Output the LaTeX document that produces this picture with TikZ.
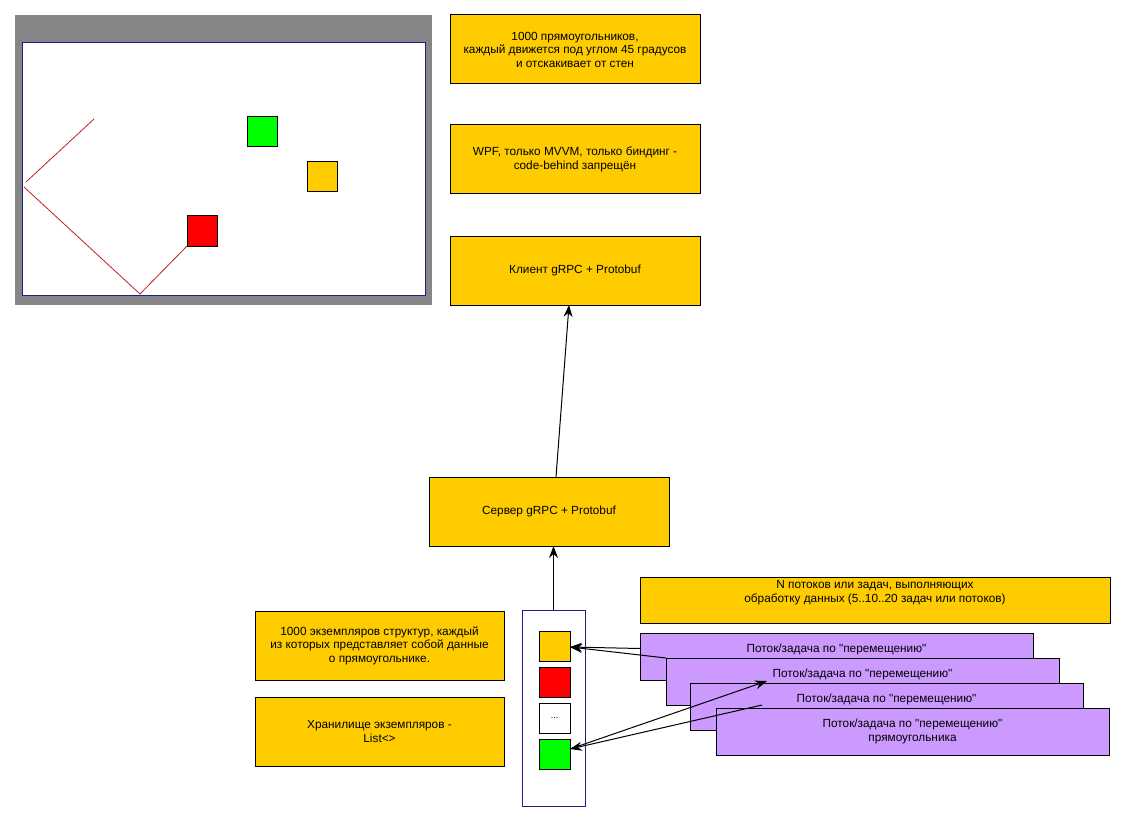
\documentclass[tikz,border=0pt]{standalone}
\usepackage{fontspec}
\setmainfont{Liberation Sans}[Ligatures=TeXOff]
\usetikzlibrary{arrows.meta,calc}

\definecolor{boxyellow}{HTML}{FFCC00}
\definecolor{boxpurple}{HTML}{CC99FF}
\definecolor{framegray}{HTML}{858585}
\definecolor{navy}{RGB}{30,30,140}
\definecolor{sqgreen}{HTML}{00FF00}
\definecolor{sqred}{HTML}{FF0000}
\definecolor{tracered}{HTML}{C02020}

\tikzset{
  note/.style={draw=black, line width=1pt, fill=boxyellow, anchor=north west,
    inner sep=0pt, outer sep=0pt, align=center,
    font=\fontsize{11.8}{13.5}\selectfont},
  thread/.style={note, fill=boxpurple, minimum width=393pt, minimum height=47pt},
  cell/.style={draw=black, line width=1pt, anchor=north west, inner sep=0pt,
    outer sep=0pt, minimum width=31pt, minimum height=30pt,
    font=\fontsize{9}{10}\selectfont},
  link/.style={line width=1pt, -{Stealth[length=12pt,width=9pt,inset=4pt]}},
}

\begin{document}
\begin{tikzpicture}[x=1pt,y=-1pt]
\useasboundingbox (0,0) rectangle (1124,821);

% application window with the moving rectangles
\fill[framegray] (15,15) rectangle (432,305);
\draw[navy, line width=1pt, fill=white] (22,43) rectangle (425,295);
\draw[tracered, line width=0.8pt] (94,119) -- (26,182);
\draw[tracered, line width=0.8pt] (24,187) -- (140,294) -- (187,246);
\draw[line width=1pt, fill=sqgreen] (247,117) rectangle (277,147);
\draw[line width=1pt, fill=boxyellow] (307,162) rectangle (337,192);
\draw[line width=1pt, fill=sqred] (187,216) rectangle (217,246);

% requirement notes
\node[note, minimum width=250pt, minimum height=69pt] (req) at (450,15)
  {1000 прямоугольников,\\каждый движется под углом 45 градусов\\и отскакивает от стен};
\node[note, minimum width=250pt, minimum height=69pt] (wpf) at (450,125)
  {WPF, только MVVM, только биндинг -\\code-behind запрещён};
\node[note, minimum width=250pt, minimum height=69pt] (client) at (450,236)
  {Клиент gRPC + Protobuf};
\node[note, minimum width=240pt, minimum height=69pt] (server) at (429,477)
  {Сервер gRPC + Protobuf};

\node[note, minimum width=249pt, minimum height=69pt] (structs) at (255,611)
  {1000 экземпляров структур, каждый\\из которых представляет собой данные\\о прямоугольнике.};
\node[note, minimum width=249pt, minimum height=69pt] (storage) at (255,697)
  {Хранилище экземпляров -\\List<>};

\node[note, minimum width=470pt, minimum height=46pt] (nthreads) at (640,577)
  {N потоков или задач, выполняющих\\обработку данных (5..10..20 задач или потоков)\\\strut};

% list of instances
\node[draw=navy, line width=1pt, fill=white, anchor=north west, inner sep=0pt,
  outer sep=0pt, minimum width=63pt, minimum height=196pt] (list) at (522,610) {};
\node[cell, fill=boxyellow] (c1) at (539,631) {};
\node[cell, fill=sqred] (c2) at (539,667) {};
\node[cell, fill=white] (c3) at (539,703) {...};
\node[cell, fill=sqgreen] (c4) at (539,739) {};

% worker threads
\node[thread] (p1) at (640,633) {Поток/задача по "перемещению"\\\strut};
\node[thread] (p2) at (666,658) {Поток/задача по "перемещению"\\\strut};
\node[thread] (p3) at (690,683) {Поток/задача по "перемещению"\\\strut};
\node[thread] (p4) at (716,708) {Поток/задача по "перемещению"\\прямоугольника};

\coordinate (p2tip) at ($(p2.north west)+(101,23)$);
\coordinate (p3tail) at ($(p3.north west)+(72,22)$);

% connectors
\draw[link] ([xshift=7pt]server.north) -- ([xshift=-6pt]client.south);
\draw[link] (list.north) -- (list.north |- server.south);
\draw[link] ([yshift=8pt]p1.west) -- ([yshift=-1pt]c1.east);
\draw[link] (p2.north west) -- ([yshift=-1pt]c1.east);
\draw[link] ([yshift=5pt]c4.east) -- (p2tip);
\draw[link] (p3tail) -- ([yshift=5pt]c4.east);
\end{tikzpicture}
\end{document}
